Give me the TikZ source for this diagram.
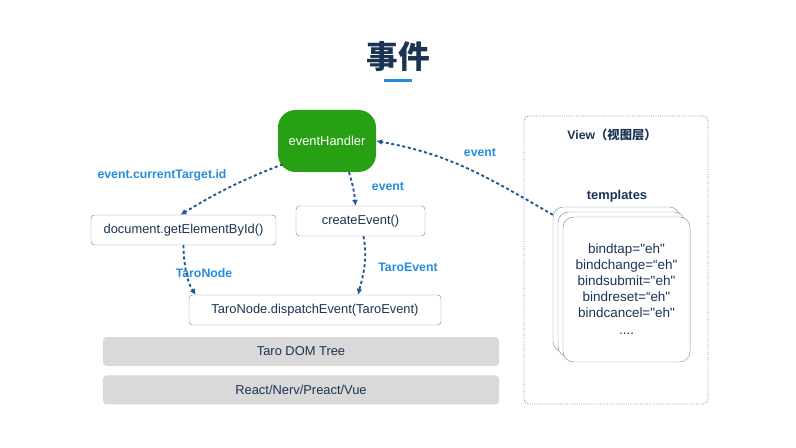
\documentclass[tikz,border=0pt]{standalone}
\usepackage{fontspec}
\setmainfont{Liberation Sans}[Ligatures=TeXOff]
\newfontfamily\cjk{Noto Sans CJK SC}
\usetikzlibrary{arrows.meta, positioning, calc}
\definecolor{evGreen}{RGB}{40,160,20}
\definecolor{evNavy}{RGB}{28,52,84}
\definecolor{evLabel}{RGB}{38,140,220}
\definecolor{evArrow}{RGB}{30,88,150}
\definecolor{evLine}{RGB}{125,145,165}
\definecolor{evGray}{RGB}{217,217,217}
\definecolor{evView}{RGB}{95,155,210}

\begin{document}
\begin{tikzpicture}[
    x=0.03cm, y=0.03cm,
    fnbox/.style={draw=evLine, rounded corners=3pt, fill=white, text=evNavy, minimum height=0.9cm, inner sep=0pt, font=\fontsize{11}{13}\selectfont},
    handler/.style={fill=evGreen, rounded corners=15pt, text=white, minimum width=2.94cm, minimum height=1.86cm, inner sep=0pt, font=\fontsize{11}{13}\selectfont},
    layer/.style={fill=evGray, rounded corners=3pt, text=evNavy, minimum width=11.88cm, minimum height=0.87cm, inner sep=0pt, font=\fontsize{11}{13}\selectfont},
    card/.style={draw=evLine, rounded corners=9pt, fill=white, minimum width=3.81cm, minimum height=4.35cm, inner sep=0pt},
    flowlabel/.style={text=evLabel, font=\bfseries\fontsize{10.5}{12}\selectfont},
    heading/.style={text=evNavy, font=\bfseries\fontsize{10.5}{12}\selectfont},
    flow/.style={-{Latex[length=5pt,width=5pt]}, draw=evArrow, line width=1.6pt, dash pattern=on 2.6pt off 2.2pt},
    node distance=0.27cm
]
    \useasboundingbox (0,0) rectangle (796,447);

    % title
    \node[text=evNavy, font=\fontsize{27}{30}\selectfont] (title) at (398,390) {\cjk\bfseries 事件};
    \fill[evLabel] (384,364.5) rectangle (412,367.5);

    % left part
    \node[handler] (eh) at (327,306) {eventHandler};
    \node[fnbox, minimum width=5.55cm] (doc) at (183.5,217) {document.getElementById()};
    \node[fnbox, minimum width=3.87cm] (ce) at (360.5,226) {createEvent()};
    \node[fnbox, minimum width=7.56cm] (disp) at (315,137) {TaroNode.dispatchEvent(TaroEvent)};
    \node[layer] (dom) at (301,95.5) {Taro DOM Tree};
    \node[layer, below=of dom] (fw) {React/Nerv/Preact/Vue};

    % view layer
    \node[draw=evView, line width=0.8pt, dash pattern=on 0.8pt off 1.2pt, rounded corners=4pt, minimum width=5.52cm, minimum height=8.64cm] (view) at (616,187) {};
    \node[heading] (viewtitle) at (612,312) {View\cjk\bfseries （视图层）};
    \node[heading, font=\bfseries\fontsize{11}{13}\selectfont] (tpl) at (617,251) {templates};
    \node[card] (card1) at (616.5,167.5) {};
    \node[card] (card2) at (621.5,162.5) {};
    \node[card, align=center, text=evNavy, font=\fontsize{11.5}{13.6}\selectfont] (card3) at (626.5,157.5)
        {bindtap="eh"\\bindchange=“eh"\\bindsubmit="eh"\\bindreset=“eh"\\bindcancel="eh"\\[1pt]....};

    % labels
    \node[flowlabel] (lcur) at (162,272) {event.currentTarget.id};
    \node[flowlabel] (lev1) at (388,260) {event};
    \node[flowlabel] (lnode) at (204,174) {TaroNode};
    \node[flowlabel] (lte) at (408,180) {TaroEvent};
    \node[flowlabel] (lev2) at (480,294) {event};

    \draw[flow] ($(eh.south west)+(5,8)$) to[bend right=5] ($(doc.north)+(-3,0)$);
    \draw[flow] ($(eh.south)+(22,0)$) to[bend left=6] ($(ce.north)+(-5,0)$);
    \draw[flow] (doc.south) to[out=-90, in=125, looseness=0.8] ($(disp.north west)+(7,0)$);
    \draw[flow] ($(ce.south)+(3,0)$) to[out=-80, in=75] ($(disp.north)+(43,0)$);
    \draw[flow] ($(card1.north west)+(0,-8)$) to[out=150, in=-10] (eh.east);
\end{tikzpicture}
\end{document}
